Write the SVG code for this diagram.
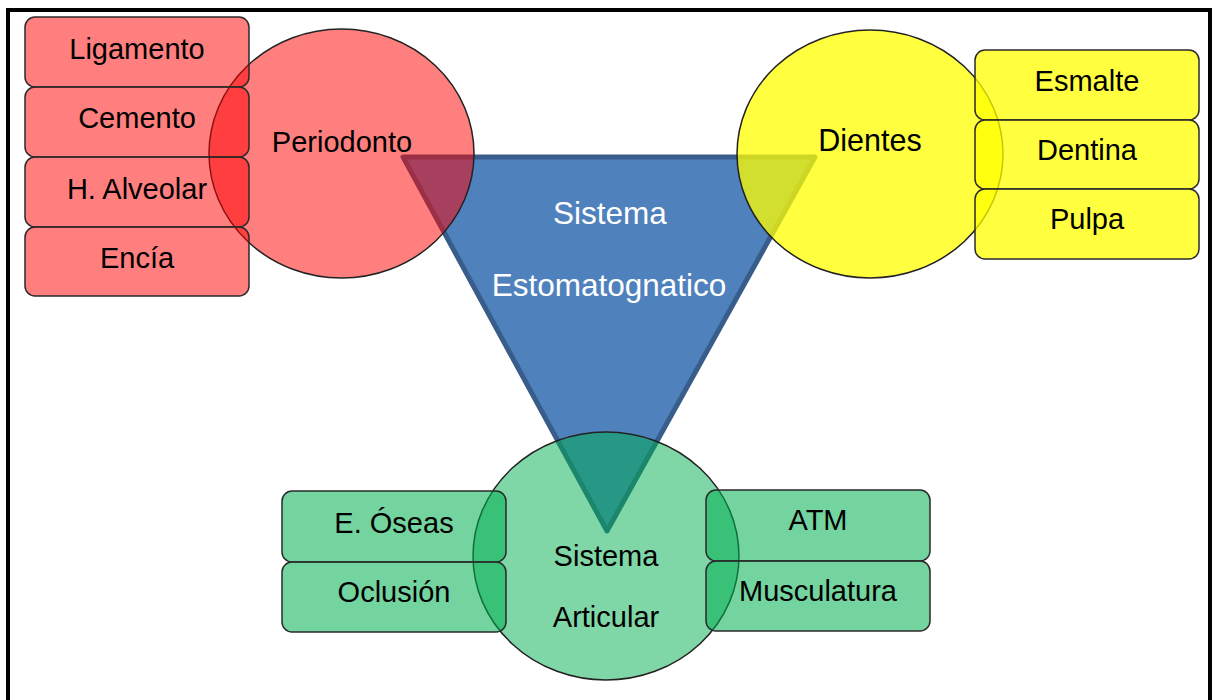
<svg xmlns="http://www.w3.org/2000/svg" width="1212" height="700" viewBox="0 0 1212 700">
<style>
text{font-family:"Liberation Sans",Arial,sans-serif;font-size:29px;fill:#000;text-anchor:middle}
.tw{fill:#fff;font-size:31.5px}
.circ{stroke:#222;stroke-width:1.5}
.box{stroke:#2a2a2a;stroke-width:1.5}
.red{fill:#ff0000;fill-opacity:0.5}
.yel{fill:#ffff00;fill-opacity:0.75}
.grn{fill:#00b050;fill-opacity:0.5}
.grnb{fill:#00b050;fill-opacity:0.55}
</style>
<rect x="0" y="0" width="1212" height="700" fill="#fff"/>
<rect id="frame" x="8" y="10" width="1202" height="740" fill="none" stroke="#000" stroke-width="4"/>
<g id="triangle">
<polygon points="403,157 815,157 607,531" fill="#4f81bd" stroke="#385d8a" stroke-width="5" stroke-linejoin="round"/>
<text class="tw" x="610" y="224">Sistema</text>
<text class="tw" x="609" y="296">Estomatognatico</text>
</g>
<g id="periodonto">
<ellipse class="circ red" cx="341.5" cy="153.5" rx="132.5" ry="124.5"/>
<text x="342" y="152">Periodonto</text>
</g>
<g id="ligamento"><rect class="box red" x="25" y="17" width="224" height="70" rx="10"/><text x="137" y="59">Ligamento</text></g>
<g id="cemento"><rect class="box red" x="25" y="87" width="224" height="70" rx="10"/><text x="137" y="128">Cemento</text></g>
<g id="alveolar"><rect class="box red" x="25" y="157" width="224" height="70" rx="10"/><text x="137" y="199">H. Alveolar</text></g>
<g id="encia"><rect class="box red" x="25" y="227" width="224" height="69" rx="10"/><text x="137" y="268">Encía</text></g>
<g id="dientes">
<ellipse class="circ yel" cx="870" cy="154" rx="133" ry="124"/>
<text x="870" y="151" style="font-size:30.5px">Dientes</text>
</g>
<g id="esmalte"><rect class="box yel" x="975" y="50" width="224" height="70" rx="10"/><text x="1087" y="91">Esmalte</text></g>
<g id="dentina"><rect class="box yel" x="975" y="120" width="224" height="69" rx="10"/><text x="1087" y="160">Dentina</text></g>
<g id="pulpa"><rect class="box yel" x="975" y="189" width="224" height="70" rx="10"/><text x="1087" y="229">Pulpa</text></g>
<g id="articular">
<ellipse class="circ grn" cx="606" cy="556" rx="133" ry="124"/>
<text x="606" y="566">Sistema</text>
<text x="606" y="627">Articular</text>
</g>
<g id="oseas"><rect class="box grnb" x="282" y="491" width="224" height="71" rx="10"/><text x="394" y="533">E. Óseas</text></g>
<g id="oclusion"><rect class="box grnb" x="282" y="562" width="224" height="70" rx="10"/><text x="394" y="602">Oclusión</text></g>
<g id="atm"><rect class="box grnb" x="706" y="490" width="224" height="71" rx="10"/><text x="818" y="530">ATM</text></g>
<g id="musculatura"><rect class="box grnb" x="706" y="561" width="224" height="70" rx="10"/><text x="818" y="601">Musculatura</text></g>
</svg>
